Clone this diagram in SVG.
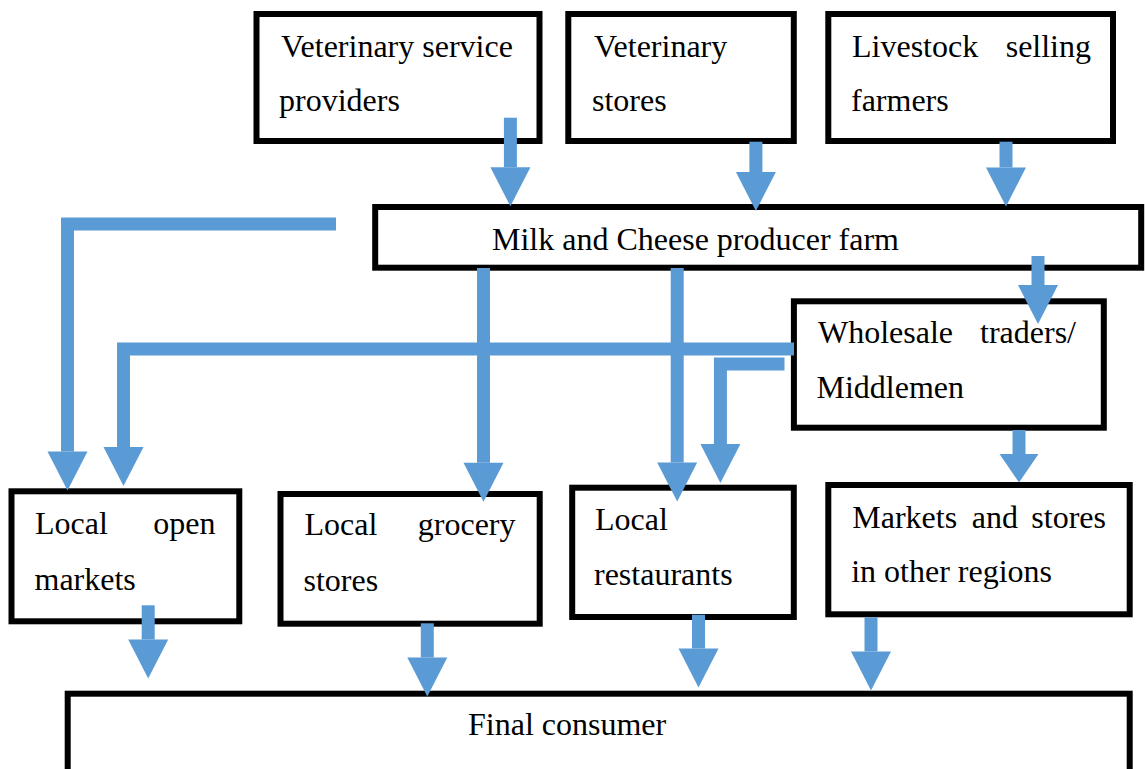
<svg xmlns="http://www.w3.org/2000/svg" width="1145" height="769" viewBox="0 0 1145 769">
<style>
.box{fill:#fff;stroke:#000;stroke-width:6}
.t{font-family:"Liberation Serif","Times New Roman",serif;font-size:32px;fill:#000}
.e{text-anchor:end}
.c{fill:none;stroke:#5B9BD5;stroke-width:13;stroke-linejoin:miter;stroke-linecap:butt}
</style>
<defs>
<marker id="ah" markerUnits="userSpaceOnUse" viewBox="0 -20 39 40" refX="0" refY="0" markerWidth="39" markerHeight="40" orient="auto" overflow="visible">
<path d="M0,-20 L39,0 L0,20 z" fill="#5B9BD5"/>
</marker>
<marker id="ahs" markerUnits="userSpaceOnUse" viewBox="0 -20 29 40" refX="0" refY="0" markerWidth="29" markerHeight="40" orient="auto" overflow="visible">
<path d="M0,-19.5 L28.5,0 L0,19.5 z" fill="#5B9BD5"/>
</marker>
</defs>
<rect width="1145" height="769" fill="#fff"/>
<g id="vet-service">
<rect class="box" x="256.5" y="14" width="283" height="127"/>
<text class="t" x="281" y="57">Veterinary service</text>
<text class="t" x="279" y="111">providers</text>
</g>
<g id="vet-stores">
<rect class="box" x="568.3" y="14" width="225.5" height="127"/>
<text class="t" x="594" y="57">Veterinary</text>
<text class="t" x="592" y="111">stores</text>
</g>
<g id="livestock">
<rect class="box" x="828.3" y="14" width="284.7" height="127"/>
<text class="t" x="852" y="57">Livestock</text>
<text class="t e" x="1091" y="57">selling</text>
<text class="t" x="851" y="111">farmers</text>
</g>
<g id="milk-farm">
<rect class="box" x="375.2" y="207" width="766" height="60.7"/>
<text class="t" x="492" y="250">Milk and Cheese producer farm</text>
</g>
<g id="wholesale">
<rect class="box" x="793.9" y="301.3" width="309.9" height="126.4"/>
<text class="t" x="818" y="343">Wholesale</text>
<text class="t e" x="1076" y="343">traders/</text>
<text class="t" x="816.5" y="397.5">Middlemen</text>
</g>
<g id="open-markets">
<rect class="box" x="11.5" y="491.3" width="227.8" height="130"/>
<text class="t" x="35" y="534">Local</text>
<text class="t e" x="215.5" y="534">open</text>
<text class="t" x="34.5" y="589.5">markets</text>
</g>
<g id="grocery">
<rect class="box" x="280.5" y="494" width="259.2" height="129.7"/>
<text class="t" x="304.5" y="535">Local</text>
<text class="t e" x="515.5" y="535">grocery</text>
<text class="t" x="303.5" y="591">stores</text>
</g>
<g id="restaurants">
<rect class="box" x="572.2" y="487.7" width="221.6" height="129.3"/>
<text class="t" x="595" y="530">Local</text>
<text class="t" x="594" y="585">restaurants</text>
</g>
<g id="other-regions">
<rect class="box" x="828.3" y="485" width="301.4" height="129.3"/>
<text class="t" x="852.3" y="528">Markets</text>
<text class="t" x="971.8" y="528">and</text>
<text class="t e" x="1106" y="528">stores</text>
<text class="t" x="851.2" y="582">in other regions</text>
</g>
<g id="final-consumer">
<rect class="box" x="67.7" y="693.7" width="1062" height="110"/>
<text class="t" x="468" y="735">Final consumer</text>
</g>
<g id="connectors">
<path class="c" d="M510.4,117.7 V167.3" marker-end="url(#ah)"/>
<path class="c" d="M755.9,141.7 V172" marker-end="url(#ah)"/>
<path class="c" d="M1006,141.7 V167.5" marker-end="url(#ah)"/>
<path class="c" d="M1038,256 V285" marker-end="url(#ah)"/>
<path class="c" d="M336,224 H67.5 V451.5" marker-end="url(#ah)"/>
<path class="c" d="M483.5,268 V462.7" marker-end="url(#ah)"/>
<path class="c" d="M677.2,268 V462.5" marker-end="url(#ah)"/>
<path class="c" d="M794,349 H123.5 V447" marker-end="url(#ah)"/>
<path class="c" d="M784.5,364 H720.4 V444" marker-end="url(#ah)"/>
<path class="c" d="M1019,430 V454" marker-end="url(#ahs)"/>
<path class="c" d="M148.2,605.3 V639.5" marker-end="url(#ah)"/>
<path class="c" d="M427.3,623.3 V657.5" marker-end="url(#ah)"/>
<path class="c" d="M698.5,614.7 V648.5" marker-end="url(#ah)"/>
<path class="c" d="M871,617.3 V651.5" marker-end="url(#ah)"/>
</g>
</svg>
